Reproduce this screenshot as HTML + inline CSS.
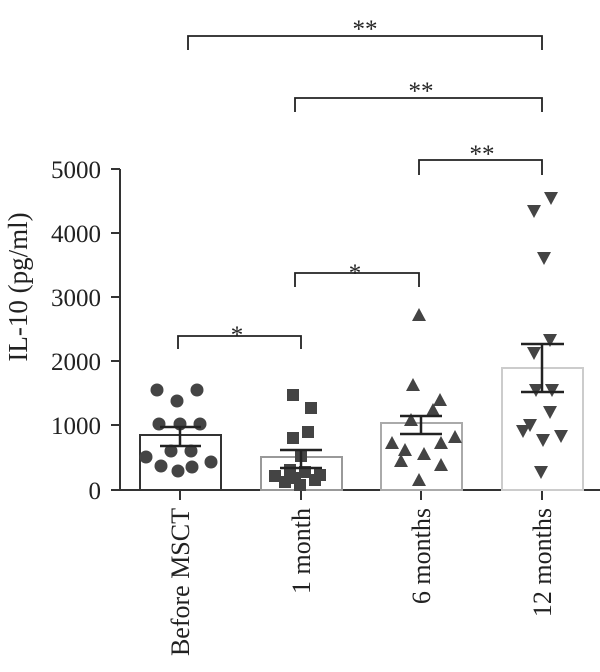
<!DOCTYPE html>
<html><head><style>body{margin:0;background:#fff}svg{display:block}text{font-family:"Liberation Serif",serif;fill:#222}</style></head><body>
<svg width="600" height="672" viewBox="0 0 600 672" xmlns="http://www.w3.org/2000/svg">
<g stroke="#333" stroke-width="2" fill="none">
<line x1="120" y1="169" x2="120" y2="491"/>
<line x1="119" y1="490" x2="600" y2="490"/>
<line x1="111" y1="169" x2="120" y2="169"/><line x1="111" y1="233" x2="120" y2="233"/><line x1="111" y1="297" x2="120" y2="297"/><line x1="111" y1="361" x2="120" y2="361"/><line x1="111" y1="425" x2="120" y2="425"/><line x1="111" y1="490" x2="120" y2="490"/>
<line x1="180" y1="490" x2="180" y2="500"/><line x1="301" y1="490" x2="301" y2="500"/><line x1="421" y1="490" x2="421" y2="500"/><line x1="542" y1="490" x2="542" y2="500"/>
</g>
<g font-size="25" text-anchor="end">
<text x="101" y="178">5000</text><text x="101" y="242">4000</text><text x="101" y="306">3000</text><text x="101" y="370">2000</text><text x="101" y="434">1000</text><text x="101" y="499">0</text>
</g>
<text transform="translate(27,287) rotate(-90)" font-size="27" text-anchor="middle">IL-10 (pg/ml)</text>
<g font-size="26" text-anchor="end">
<text transform="translate(189,508) rotate(-90)">Before MSCT</text>
<text transform="translate(310,508) rotate(-90)">1 month</text>
<text transform="translate(430,508) rotate(-90)">6 months</text>
<text transform="translate(551,508) rotate(-90)">12 months</text>
</g>
<g fill="none" stroke-width="2">
<rect x="140" y="435" width="81" height="55" stroke="#333"/>
<rect x="261" y="457" width="81" height="33" stroke="#999"/>
<rect x="381" y="423" width="81" height="67" stroke="#aaa"/>
<rect x="502" y="368" width="81" height="122" stroke="#ccc"/>
</g>
<g fill="#444">
<circle cx="157" cy="390" r="6.5"/><circle cx="197" cy="390" r="6.5"/><circle cx="177" cy="401" r="6.5"/><circle cx="159" cy="424" r="6.5"/><circle cx="180" cy="424" r="6.5"/><circle cx="200" cy="424" r="6.5"/><circle cx="146" cy="457" r="6.5"/><circle cx="171" cy="451" r="6.5"/><circle cx="191" cy="451" r="6.5"/><circle cx="161" cy="466" r="6.5"/><circle cx="178" cy="471" r="6.5"/><circle cx="192" cy="467" r="6.5"/><circle cx="211" cy="462" r="6.5"/>
</g>
<g fill="#444">
<rect x="287" y="389" width="12" height="12"/><rect x="305" y="402" width="12" height="12"/><rect x="302" y="426" width="12" height="12"/><rect x="287" y="432" width="12" height="12"/><rect x="295" y="450" width="12" height="12"/><rect x="269" y="470" width="12" height="12"/><rect x="284" y="464" width="12" height="12"/><rect x="299" y="466" width="12" height="12"/><rect x="314" y="469" width="12" height="12"/><rect x="279" y="476" width="12" height="12"/><rect x="294" y="479" width="12" height="12"/><rect x="309" y="474" width="12" height="12"/><rect x="289" y="472" width="12" height="12"/>
</g>
<g fill="#444">
<path d="M419 308l7 13h-14z"/><path d="M413 378l7 13h-14z"/><path d="M440 393l7 13h-14z"/><path d="M433 403l7 13h-14z"/><path d="M411 413l7 13h-14z"/><path d="M455 430l7 13h-14z"/><path d="M392 436l7 13h-14z"/><path d="M405 443l7 13h-14z"/><path d="M424 447l7 13h-14z"/><path d="M441 436l7 13h-14z"/><path d="M401 454l7 13h-14z"/><path d="M441 458l7 13h-14z"/><path d="M419 473l7 13h-14z"/>
</g>
<g fill="#444">
<path d="M551 205l7 -13h-14z"/><path d="M534 218l7 -13h-14z"/><path d="M544 265l7 -13h-14z"/><path d="M550 347l7 -13h-14z"/><path d="M534 360l7 -13h-14z"/><path d="M536 397l7 -13h-14z"/><path d="M552 397l7 -13h-14z"/><path d="M550 419l7 -13h-14z"/><path d="M530 432l7 -13h-14z"/><path d="M523 438l7 -13h-14z"/><path d="M543 447l7 -13h-14z"/><path d="M561 443l7 -13h-14z"/><path d="M541 479l7 -13h-14z"/>
</g>
<g stroke="#222" stroke-width="2.5" fill="none">
<line x1="180" y1="427" x2="180" y2="446"/><line x1="160" y1="427" x2="201" y2="427"/><line x1="160" y1="446" x2="201" y2="446"/>
<line x1="301" y1="450" x2="301" y2="468"/><line x1="280" y1="450" x2="322" y2="450"/><line x1="280" y1="468" x2="322" y2="468"/>
<line x1="421" y1="416" x2="421" y2="434"/><line x1="400" y1="416" x2="442" y2="416"/><line x1="400" y1="434" x2="442" y2="434"/>
<line x1="542" y1="344" x2="542" y2="392"/><line x1="521" y1="344" x2="564" y2="344"/><line x1="521" y1="392" x2="564" y2="392"/>
</g>
<g stroke="#222" stroke-width="1.8" fill="none">
<path d="M178 349V336H301V349"/>
<path d="M295 287V273H419V287"/>
<path d="M419 175V160H542V175"/>
<path d="M295 112V98H542V112"/>
<path d="M188 50V36H542V50"/>
</g>
<g font-size="25" text-anchor="middle">
<text x="237" y="343">*</text>
<text x="355" y="281">*</text>
<text x="482" y="162">**</text>
<text x="421" y="99">**</text>
<text x="365" y="37">**</text>
</g>
</svg>
</body></html>
